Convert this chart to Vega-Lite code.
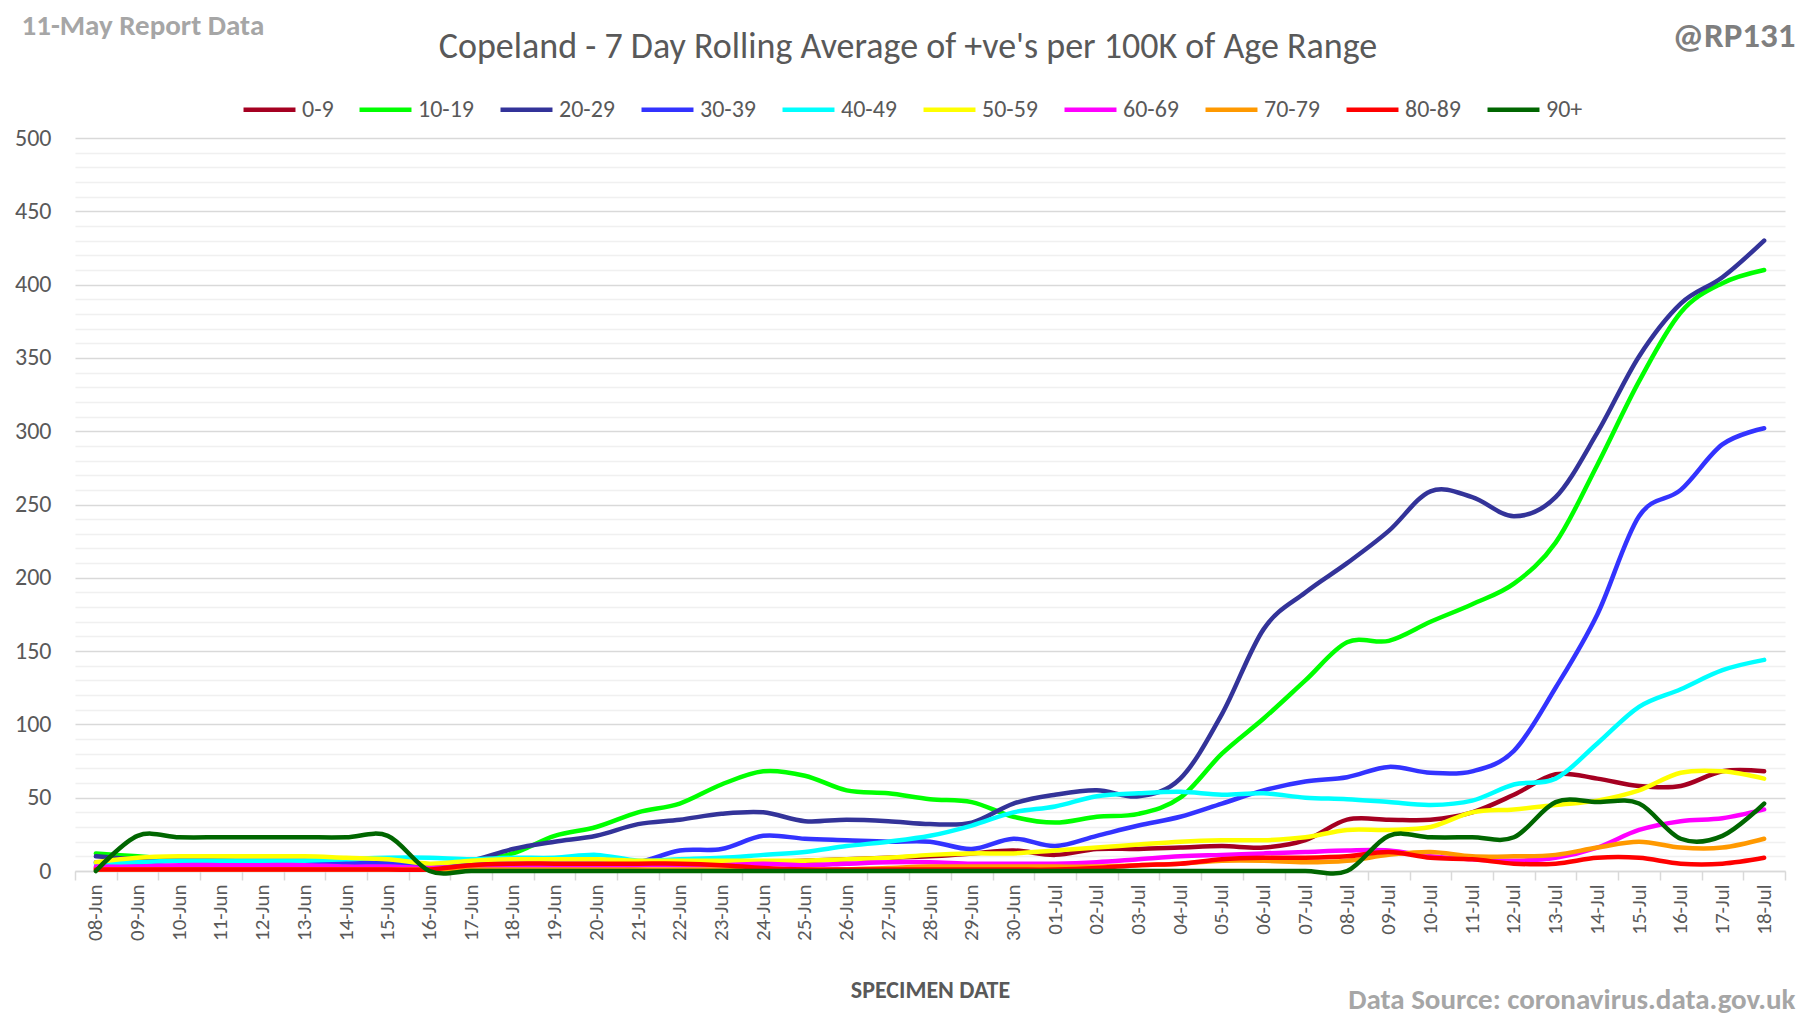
{
  "$schema": "https://vega.github.io/schema/vega-lite/v6.json",
  "width": 1710,
  "height": 733,
  "autosize": {"type": "none"},
  "padding": {"left": 75, "top": 138, "right": 31, "bottom": 151},
  "background": "white",
  "data": {
    "values": [
      {"date": "08-Jun", "0-9": 2, "10-19": 12, "20-29": 10, "30-39": 6, "40-49": 5, "50-59": 6, "60-69": 3, "70-79": 1, "80-89": 1, "90+": 0},
      {"date": "09-Jun", "0-9": 3, "10-19": 10, "20-29": 8, "30-39": 6, "40-49": 6, "50-59": 9, "60-69": 3, "70-79": 1, "80-89": 1, "90+": 24},
      {"date": "10-Jun", "0-9": 3, "10-19": 8, "20-29": 8, "30-39": 7, "40-49": 7, "50-59": 10, "60-69": 4, "70-79": 1, "80-89": 1, "90+": 23},
      {"date": "11-Jun", "0-9": 3, "10-19": 7, "20-29": 7, "30-39": 7, "40-49": 7, "50-59": 10, "60-69": 4, "70-79": 1, "80-89": 1, "90+": 23},
      {"date": "12-Jun", "0-9": 3, "10-19": 6, "20-29": 7, "30-39": 6, "40-49": 7, "50-59": 10, "60-69": 4, "70-79": 1, "80-89": 1, "90+": 23},
      {"date": "13-Jun", "0-9": 3, "10-19": 6, "20-29": 7, "30-39": 6, "40-49": 7, "50-59": 10, "60-69": 4, "70-79": 1, "80-89": 1, "90+": 23},
      {"date": "14-Jun", "0-9": 3, "10-19": 6, "20-29": 6, "30-39": 6, "40-49": 8, "50-59": 9, "60-69": 3, "70-79": 1, "80-89": 1, "90+": 23},
      {"date": "15-Jun", "0-9": 3, "10-19": 5, "20-29": 5, "30-39": 5, "40-49": 9, "50-59": 8, "60-69": 3, "70-79": 1, "80-89": 1, "90+": 24},
      {"date": "16-Jun", "0-9": 2, "10-19": 4, "20-29": 3, "30-39": 4, "40-49": 9, "50-59": 5, "60-69": 2, "70-79": 1, "80-89": 1, "90+": 0},
      {"date": "17-Jun", "0-9": 3, "10-19": 7, "20-29": 7, "30-39": 5, "40-49": 8, "50-59": 7, "60-69": 3, "70-79": 1, "80-89": 4, "90+": 0},
      {"date": "18-Jun", "0-9": 3, "10-19": 12, "20-29": 15, "30-39": 5, "40-49": 9, "50-59": 8, "60-69": 3, "70-79": 1, "80-89": 5, "90+": 0},
      {"date": "19-Jun", "0-9": 3, "10-19": 24, "20-29": 20, "30-39": 5, "40-49": 9, "50-59": 8, "60-69": 3, "70-79": 1, "80-89": 5, "90+": 0},
      {"date": "20-Jun", "0-9": 3, "10-19": 30, "20-29": 24, "30-39": 5, "40-49": 11, "50-59": 8, "60-69": 3, "70-79": 1, "80-89": 5, "90+": 0},
      {"date": "21-Jun", "0-9": 4, "10-19": 40, "20-29": 32, "30-39": 6, "40-49": 7, "50-59": 7, "60-69": 4, "70-79": 1, "80-89": 5, "90+": 0},
      {"date": "22-Jun", "0-9": 5, "10-19": 46, "20-29": 35, "30-39": 14, "40-49": 8, "50-59": 7, "60-69": 4, "70-79": 1, "80-89": 5, "90+": 0},
      {"date": "23-Jun", "0-9": 5, "10-19": 59, "20-29": 39, "30-39": 15, "40-49": 9, "50-59": 7, "60-69": 4, "70-79": 1, "80-89": 4, "90+": 0},
      {"date": "24-Jun", "0-9": 6, "10-19": 68, "20-29": 40, "30-39": 24, "40-49": 11, "50-59": 7, "60-69": 5, "70-79": 1, "80-89": 2, "90+": 0},
      {"date": "25-Jun", "0-9": 7, "10-19": 65, "20-29": 34, "30-39": 22, "40-49": 13, "50-59": 7, "60-69": 4, "70-79": 1, "80-89": 1, "90+": 0},
      {"date": "26-Jun", "0-9": 8, "10-19": 55, "20-29": 35, "30-39": 21, "40-49": 17, "50-59": 8, "60-69": 5, "70-79": 1, "80-89": 1, "90+": 0},
      {"date": "27-Jun", "0-9": 9, "10-19": 53, "20-29": 34, "30-39": 20, "40-49": 20, "50-59": 9, "60-69": 6, "70-79": 2, "80-89": 1, "90+": 0},
      {"date": "28-Jun", "0-9": 10, "10-19": 49, "20-29": 32, "30-39": 20, "40-49": 24, "50-59": 11, "60-69": 6, "70-79": 3, "80-89": 1, "90+": 0},
      {"date": "29-Jun", "0-9": 12, "10-19": 47, "20-29": 33, "30-39": 15, "40-49": 31, "50-59": 12, "60-69": 5, "70-79": 3, "80-89": 1, "90+": 0},
      {"date": "30-Jun", "0-9": 14, "10-19": 37, "20-29": 46, "30-39": 22, "40-49": 40, "50-59": 12, "60-69": 5, "70-79": 3, "80-89": 1, "90+": 0},
      {"date": "01-Jul", "0-9": 11, "10-19": 33, "20-29": 52, "30-39": 17, "40-49": 44, "50-59": 14, "60-69": 5, "70-79": 3, "80-89": 1, "90+": 0},
      {"date": "02-Jul", "0-9": 15, "10-19": 37, "20-29": 55, "30-39": 24, "40-49": 51, "50-59": 16, "60-69": 6, "70-79": 3, "80-89": 2, "90+": 0},
      {"date": "03-Jul", "0-9": 15, "10-19": 39, "20-29": 51, "30-39": 31, "40-49": 53, "50-59": 18, "60-69": 8, "70-79": 4, "80-89": 4, "90+": 0},
      {"date": "04-Jul", "0-9": 16, "10-19": 50, "20-29": 63, "30-39": 37, "40-49": 54, "50-59": 20, "60-69": 10, "70-79": 5, "80-89": 5, "90+": 0},
      {"date": "05-Jul", "0-9": 17, "10-19": 80, "20-29": 107, "30-39": 46, "40-49": 52, "50-59": 21, "60-69": 11, "70-79": 7, "80-89": 8, "90+": 0},
      {"date": "06-Jul", "0-9": 16, "10-19": 104, "20-29": 165, "30-39": 55, "40-49": 53, "50-59": 21, "60-69": 12, "70-79": 7, "80-89": 9, "90+": 0},
      {"date": "07-Jul", "0-9": 21, "10-19": 130, "20-29": 190, "30-39": 61, "40-49": 50, "50-59": 23, "60-69": 13, "70-79": 6, "80-89": 9, "90+": 0},
      {"date": "08-Jul", "0-9": 35, "10-19": 156, "20-29": 210, "30-39": 64, "40-49": 49, "50-59": 28, "60-69": 14, "70-79": 7, "80-89": 10, "90+": 0},
      {"date": "09-Jul", "0-9": 35, "10-19": 157, "20-29": 232, "30-39": 71, "40-49": 47, "50-59": 28, "60-69": 14, "70-79": 11, "80-89": 13, "90+": 24},
      {"date": "10-Jul", "0-9": 35, "10-19": 170, "20-29": 259, "30-39": 67, "40-49": 45, "50-59": 30, "60-69": 10, "70-79": 13, "80-89": 9, "90+": 23},
      {"date": "11-Jul", "0-9": 40, "10-19": 182, "20-29": 255, "30-39": 68, "40-49": 48, "50-59": 40, "60-69": 8, "70-79": 10, "80-89": 8, "90+": 23},
      {"date": "12-Jul", "0-9": 52, "10-19": 196, "20-29": 242, "30-39": 82, "40-49": 59, "50-59": 42, "60-69": 7, "70-79": 10, "80-89": 5, "90+": 23},
      {"date": "13-Jul", "0-9": 66, "10-19": 224, "20-29": 255, "30-39": 125, "40-49": 63, "50-59": 45, "60-69": 9, "70-79": 11, "80-89": 5, "90+": 47},
      {"date": "14-Jul", "0-9": 63, "10-19": 277, "20-29": 299, "30-39": 175, "40-49": 87, "50-59": 48, "60-69": 16, "70-79": 16, "80-89": 9, "90+": 47},
      {"date": "15-Jul", "0-9": 58, "10-19": 334, "20-29": 351, "30-39": 242, "40-49": 112, "50-59": 55, "60-69": 28, "70-79": 20, "80-89": 9, "90+": 46},
      {"date": "16-Jul", "0-9": 58, "10-19": 381, "20-29": 387, "30-39": 260, "40-49": 124, "50-59": 67, "60-69": 34, "70-79": 16, "80-89": 5, "90+": 22},
      {"date": "17-Jul", "0-9": 68, "10-19": 401, "20-29": 405, "30-39": 291, "40-49": 137, "50-59": 68, "60-69": 36, "70-79": 16, "80-89": 5, "90+": 24},
      {"date": "18-Jul", "0-9": 68, "10-19": 410, "20-29": 430, "30-39": 302, "40-49": 144, "50-59": 63, "60-69": 42, "70-79": 22, "80-89": 9, "90+": 46}
    ]
  },
  "transform": [
    {"fold": ["0-9", "10-19", "20-29", "30-39", "40-49", "50-59", "60-69", "70-79", "80-89", "90+"], "as": ["age", "value"]}
  ],
  "title": {
    "text": "Copeland - 7 Day Rolling Average of +ve's per 100K of Age Range",
    "anchor": "middle",
    "frame": "group",
    "font": "Carlito, Lato, sans-serif",
    "fontSize": 36,
    "fontWeight": "normal",
    "color": "#595959",
    "offset": 0,
    "dx": -22,
    "dy": 55
  },
  "layer": [
    {
      "mark": {"type": "line", "interpolate": "cardinal", "strokeWidth": 4.5, "strokeCap": "round", "strokeJoin": "round"},
      "encoding": {
        "x": {
          "field": "date",
          "type": "nominal",
          "scale": {"type": "band", "paddingInner": 0, "paddingOuter": 0, "domain": ["08-Jun","09-Jun","10-Jun","11-Jun","12-Jun","13-Jun","14-Jun","15-Jun","16-Jun","17-Jun","18-Jun","19-Jun","20-Jun","21-Jun","22-Jun","23-Jun","24-Jun","25-Jun","26-Jun","27-Jun","28-Jun","29-Jun","30-Jun","01-Jul","02-Jul","03-Jul","04-Jul","05-Jul","06-Jul","07-Jul","08-Jul","09-Jul","10-Jul","11-Jul","12-Jul","13-Jul","14-Jul","15-Jul","16-Jul","17-Jul","18-Jul"]},
          "axis": {
            "orient": "bottom",
            "labelAngle": -90,
            "labelFont": "Carlito, Lato, sans-serif",
            "labelFontSize": 21,
            "labelColor": "#595959",
            "labelPadding": 4,
            "tickBand": "extent",
            "ticks": true,
            "tickColor": "#d9d9d9",
            "tickWidth": 1.5,
            "tickSize": 9,
            "domainColor": "#d9d9d9",
            "domainWidth": 1.5,
            "grid": false,
            "title": "SPECIMEN DATE",
            "titleFont": "Carlito, Lato, sans-serif",
            "titleFontSize": 24,
            "titleFontWeight": "bold",
            "titleColor": "#595959",
            "titlePadding": 38
          }
        },
        "y": {
          "field": "value",
          "type": "quantitative",
          "scale": {"domain": [0, 500], "nice": false},
          "axis": {
            "values": [0,10,20,30,40,50,60,70,80,90,100,110,120,130,140,150,160,170,180,190,200,210,220,230,240,250,260,270,280,290,300,310,320,330,340,350,360,370,380,390,400,410,420,430,440,450,460,470,480,490,500],
            "labelExpr": "datum.value % 50 === 0 ? datum.label : ''",
            "grid": true,
            "gridColor": {"condition": {"test": "datum.value % 50 === 0", "value": "#d9d9d9"}, "value": "#f0f0f0"},
            "gridWidth": 1.5,
            "ticks": false,
            "domain": false,
            "labelFont": "Carlito, Lato, sans-serif",
            "labelFontSize": 24,
            "labelColor": "#595959",
            "labelPadding": 24,
            "title": "11-May Report Data",
            "titleAngle": 0,
            "titleAlign": "left",
            "titleBaseline": "middle",
            "titleX": -54,
            "titleY": -113,
            "titleFont": "Carlito, Lato, sans-serif",
            "titleFontSize": 29,
            "titleFontWeight": "bold",
            "titleColor": "#a6a6a6"
          }
        },
        "color": {
          "field": "age",
          "type": "nominal",
          "scale": {
            "domain": ["0-9", "10-19", "20-29", "30-39", "40-49", "50-59", "60-69", "70-79", "80-89", "90+"],
            "range": ["#a50021", "#00ff00", "#333399", "#3333ff", "#00ffff", "#ffff00", "#ff00ff", "#ff9900", "#ff0000", "#006600"]
          },
          "legend": {
            "orient": "none",
            "legendX": 166,
            "legendY": -57,
            "direction": "horizontal",
            "title": null,
            "symbolType": "stroke",
            "symbolSize": 2700,
            "symbolStrokeWidth": 4.5,
            "labelFont": "Carlito, Lato, sans-serif",
            "labelFontSize": 24,
            "labelColor": "#595959",
            "labelOffset": 4,
            "columnPadding": 16
          }
        }
      }
    },
    {
      "mark": {"type": "point", "opacity": 0},
      "encoding": {
        "x": {
          "field": "date",
          "type": "nominal",
          "scale": {"type": "band", "paddingInner": 0, "paddingOuter": 0},
          "axis": {
            "orient": "top",
            "labels": false,
            "ticks": false,
            "domain": false,
            "grid": false,
            "title": "Data Source: coronavirus.data.gov.uk",
            "titleAngle": 0,
            "titleAlign": "right",
            "titleBaseline": "middle",
            "titleX": 1720,
            "titleY": 861,
            "titleFont": "Carlito, Lato, sans-serif",
            "titleFontSize": 29,
            "titleFontWeight": "bold",
            "titleColor": "#a6a6a6"
          }
        },
        "y": {
          "field": "value",
          "type": "quantitative",
          "axis": {
            "orient": "right",
            "labels": false,
            "ticks": false,
            "domain": false,
            "grid": false,
            "title": "@RP131",
            "titleAngle": 0,
            "titleAlign": "right",
            "titleBaseline": "middle",
            "titleX": 10,
            "titleY": -103,
            "titleFont": "Carlito, Lato, sans-serif",
            "titleFontSize": 35,
            "titleFontWeight": "bold",
            "titleColor": "#7f7f7f"
          }
        }
      }
    }
  ],
  "resolve": {"axis": {"x": "independent", "y": "independent"}},
  "config": {
    "view": {"stroke": null}
  }
}
